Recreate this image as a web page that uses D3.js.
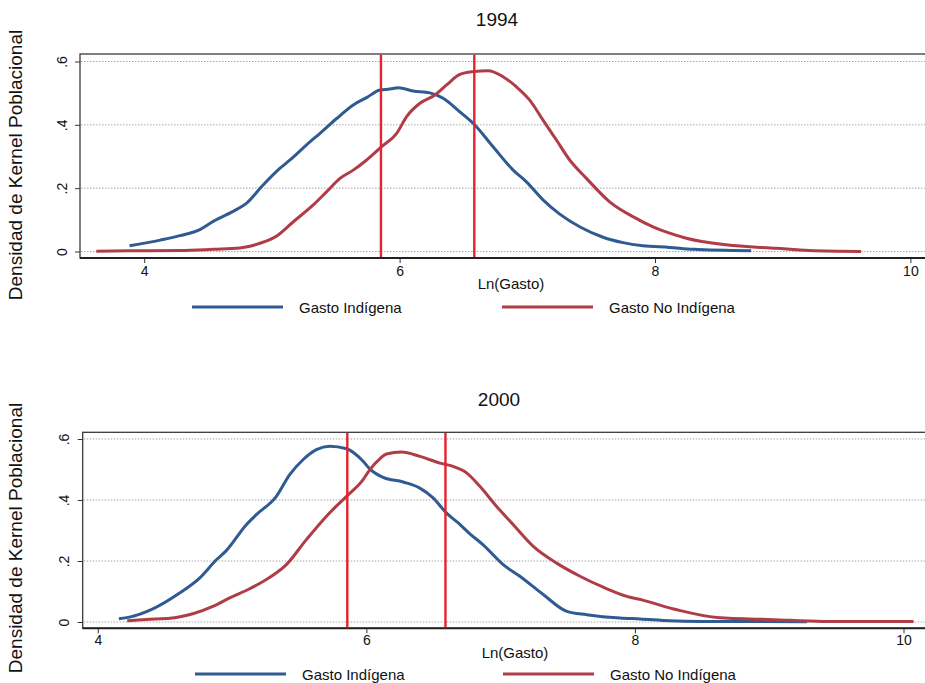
<!DOCTYPE html>
<html>
<head>
<meta charset="utf-8">
<script src="https://cdn.jsdelivr.net/npm/d3@7"></script>
<style>
  html, body { margin: 0; padding: 0; background: #fff; }
  svg { display: block; font-family: Arial, "Liberation Sans", Helvetica, sans-serif; }
</style>
</head>
<body>
<svg id="chart" width="925" height="683"></svg>
<script>
// Kernel density of log household expenditure, by group and survey year
const xTicks = [4, 6, 8, 10];
const yTicks = [0, 0.2, 0.4, 0.6];
const yTickLabels = ["0", ".2", ".4", ".6"];
const seriesNames = ["Gasto Indígena", "Gasto No Indígena"];
const years = ["1994", "2000"];

// [ln(gasto), density]
const indigena1994 = [
  [3.885,0.018],[4.125,0.036],[4.28,0.050],[4.44,0.070],[4.54,0.095],[4.725,0.133],
  [4.80,0.152],[4.92,0.205],[5.064,0.263],[5.142,0.289],[5.30,0.347],[5.377,0.373],
  [5.507,0.420],[5.637,0.463],[5.742,0.486],[5.846,0.510],[5.924,0.513],[5.989,0.517],
  [6.106,0.507],[6.237,0.501],[6.341,0.484],[6.472,0.441],[6.576,0.405],[6.732,0.331],
  [6.889,0.257],[6.993,0.220],[7.123,0.163],[7.254,0.118],[7.41,0.078],[7.593,0.045],
  [7.749,0.028],[7.905,0.018],[8.114,0.013],[8.30,0.007],[8.753,0.0025]
];
const noIndigena1994 = [
  [3.625,0.001],[3.89,0.002],[4.28,0.003],[4.54,0.007],[4.75,0.011],[4.907,0.026],
  [5.038,0.049],[5.168,0.094],[5.324,0.147],[5.429,0.189],[5.533,0.231],[5.637,0.257],
  [5.742,0.289],[5.859,0.331],[5.977,0.373],[6.055,0.426],[6.159,0.468],[6.276,0.494],
  [6.368,0.526],[6.472,0.559],[6.576,0.568],[6.693,0.571],[6.81,0.552],[6.915,0.520],
  [7.019,0.478],[7.123,0.415],[7.228,0.352],[7.332,0.289],[7.463,0.231],[7.645,0.157],
  [7.827,0.110],[7.984,0.078],[8.114,0.058],[8.245,0.042],[8.558,0.021],[8.949,0.010],
  [9.21,0.003],[9.613,0.0]
];
const indigena2000 = [
  [4.157,0.011],[4.236,0.016],[4.41,0.043],[4.609,0.095],[4.758,0.144],[4.883,0.204],
  [4.957,0.234],[5.106,0.319],[5.181,0.352],[5.33,0.412],[5.429,0.483],[5.528,0.532],
  [5.628,0.565],[5.727,0.576],[5.852,0.568],[5.976,0.527],[6.025,0.502],[6.125,0.474],
  [6.274,0.459],[6.398,0.439],[6.497,0.407],[6.597,0.357],[6.684,0.325],[6.771,0.289],
  [6.87,0.253],[7.019,0.188],[7.143,0.150],[7.317,0.090],[7.492,0.035],[7.641,0.024],
  [7.889,0.013],[8.038,0.010],[8.262,0.004],[8.5,0.002],[9.28,0.001]
];
const noIndigena2000 = [
  [4.219,0.004],[4.36,0.008],[4.584,0.015],[4.708,0.027],[4.857,0.051],[4.982,0.079],
  [5.131,0.109],[5.255,0.139],[5.404,0.188],[5.553,0.270],[5.703,0.347],[5.852,0.412],
  [5.976,0.467],[6.025,0.499],[6.1,0.535],[6.15,0.551],[6.262,0.557],[6.398,0.543],
  [6.547,0.521],[6.646,0.510],[6.746,0.489],[6.845,0.445],[6.97,0.379],[7.094,0.319],
  [7.243,0.248],[7.417,0.193],[7.591,0.150],[7.764,0.114],[7.939,0.084],[8.063,0.071],
  [8.312,0.040],[8.61,0.015],[9.032,0.0077],[9.405,0.002],[10.075,0.002]
];
// group means of ln(gasto): indígena, no indígena
const means1994 = [5.854, 6.585];
const means2000 = [5.858, 6.589];

const colors = { indigena: "#2f5a92", noIndigena: "#b03c47", mean: "#e3242f" };

const svg = d3.select("#chart");

function drawPanel(p) {
  const g = svg.append("g");
  const x = d3.scaleLinear().domain([4, 10]).range(p.xRange);
  const y = d3.scaleLinear().domain([0, 0.6]).range(p.yRange);

  // plot region
  g.append("rect")
    .attr("x", p.left).attr("y", p.top)
    .attr("width", 940 - p.left).attr("height", p.bottom - p.top)
    .attr("fill", "#fff").attr("stroke", "#3a3a3a").attr("stroke-width", 1.3);

  // horizontal grid
  g.selectAll(".grid").data(yTicks).enter().append("line")
    .attr("x1", p.left + 1).attr("x2", 925)
    .attr("y1", d => y(d)).attr("y2", d => y(d))
    .attr("stroke", "#a8a8a8").attr("stroke-width", 1)
    .attr("stroke-dasharray", "1.5,1.5");

  // y axis
  const yAxis = d3.axisLeft(y).tickValues(yTicks).tickSize(5)
    .tickFormat((d, i) => yTickLabels[i]);
  const ya = g.append("g").attr("transform", `translate(${p.left},0)`).call(yAxis);
  ya.select(".domain").remove();
  ya.selectAll(".tick line").attr("stroke", "#333").attr("stroke-width", 1);
  ya.selectAll(".tick text")
    .attr("x", 0).attr("dy", 0)
    .attr("transform", `translate(${p.yLabelX - p.left},0) rotate(-90)`)
    .attr("text-anchor", "middle")
    .attr("font-size", 14).attr("fill", "#111");

  // x axis
  const xAxis = d3.axisBottom(x).tickValues(xTicks).tickSize(5).tickFormat(d3.format("d"));
  const xa = g.append("g").attr("transform", `translate(0,${p.bottom})`).call(xAxis);
  xa.select(".domain").remove();
  xa.selectAll(".tick line").attr("stroke", "#333").attr("stroke-width", 1);
  xa.selectAll(".tick text").attr("y", 0).attr("dy", p.xLabelDy)
    .attr("font-size", 14).attr("fill", "#111");
  g.append("line")
    .attr("x1", p.left).attr("x2", 925)
    .attr("y1", p.bottom).attr("y2", p.bottom)
    .attr("stroke", "#222").attr("stroke-width", 2);

  // density curves
  const line = d3.line().x(d => x(d[0])).y(d => y(d[1])).curve(d3.curveMonotoneX);
  g.append("path").datum(p.indigena).attr("d", line)
    .attr("fill", "none").attr("stroke", colors.indigena)
    .attr("stroke-width", 3).attr("stroke-linejoin", "round");
  g.append("path").datum(p.noIndigena).attr("d", line)
    .attr("fill", "none").attr("stroke", colors.noIndigena)
    .attr("stroke-width", 3).attr("stroke-linejoin", "round");

  // group means
  g.selectAll(".mean").data(p.means).enter().append("line")
    .attr("x1", d => x(d)).attr("x2", d => x(d))
    .attr("y1", p.top + 0.7).attr("y2", p.bottom - 1)
    .attr("stroke", colors.mean).attr("stroke-width", 2.4);

  // titles
  g.append("text").attr("x", p.titleX).attr("y", p.titleY)
    .attr("text-anchor", "middle").attr("font-size", 19).attr("fill", "#111")
    .text(p.year);
  g.append("text").attr("x", p.xTitleX).attr("y", p.xTitleY)
    .attr("text-anchor", "middle").attr("font-size", 15).attr("fill", "#111")
    .text("Ln(Gasto)");
  g.append("text")
    .attr("transform", `translate(22,${p.yTitleY}) rotate(-90)`)
    .attr("text-anchor", "middle").attr("font-size", 19).attr("fill", "#111")
    .text("Densidad de Kernel Poblacional");

  // legend
  const legend = [
    { name: seriesNames[0], color: colors.indigena, x0: p.legX[0] },
    { name: seriesNames[1], color: colors.noIndigena, x0: p.legX[1] }
  ];
  legend.forEach(l => {
    g.append("line").attr("x1", l.x0).attr("x2", l.x0 + 91)
      .attr("y1", p.legY).attr("y2", p.legY)
      .attr("stroke", l.color).attr("stroke-width", 3.2);
    g.append("text").attr("x", l.x0 + 107).attr("y", p.legY + 5.5)
      .attr("font-size", 15).attr("fill", "#111").text(l.name);
  });
}

drawPanel({
  year: years[0], indigena: indigena1994, noIndigena: noIndigena1994, means: means1994,
  left: 80, top: 54, bottom: 258,
  xRange: [144.2, 910.4], yRange: [251.5, 61.5],
  yLabelX: 67, xLabelDy: 18,
  titleX: 497, titleY: 26, xTitleX: 511, xTitleY: 289, yTitleY: 165,
  legX: [192, 502], legY: 307
});

drawPanel({
  year: years[1], indigena: indigena2000, noIndigena: noIndigena2000, means: means2000,
  left: 82.7, top: 432.3, bottom: 628.3,
  xRange: [97.8, 903.5], yRange: [622, 439],
  yLabelX: 69, xLabelDy: 17,
  titleX: 499, titleY: 406, xTitleX: 515, xTitleY: 658, yTitleY: 538,
  legX: [195, 503], legY: 674
});
</script>
</body>
</html>
